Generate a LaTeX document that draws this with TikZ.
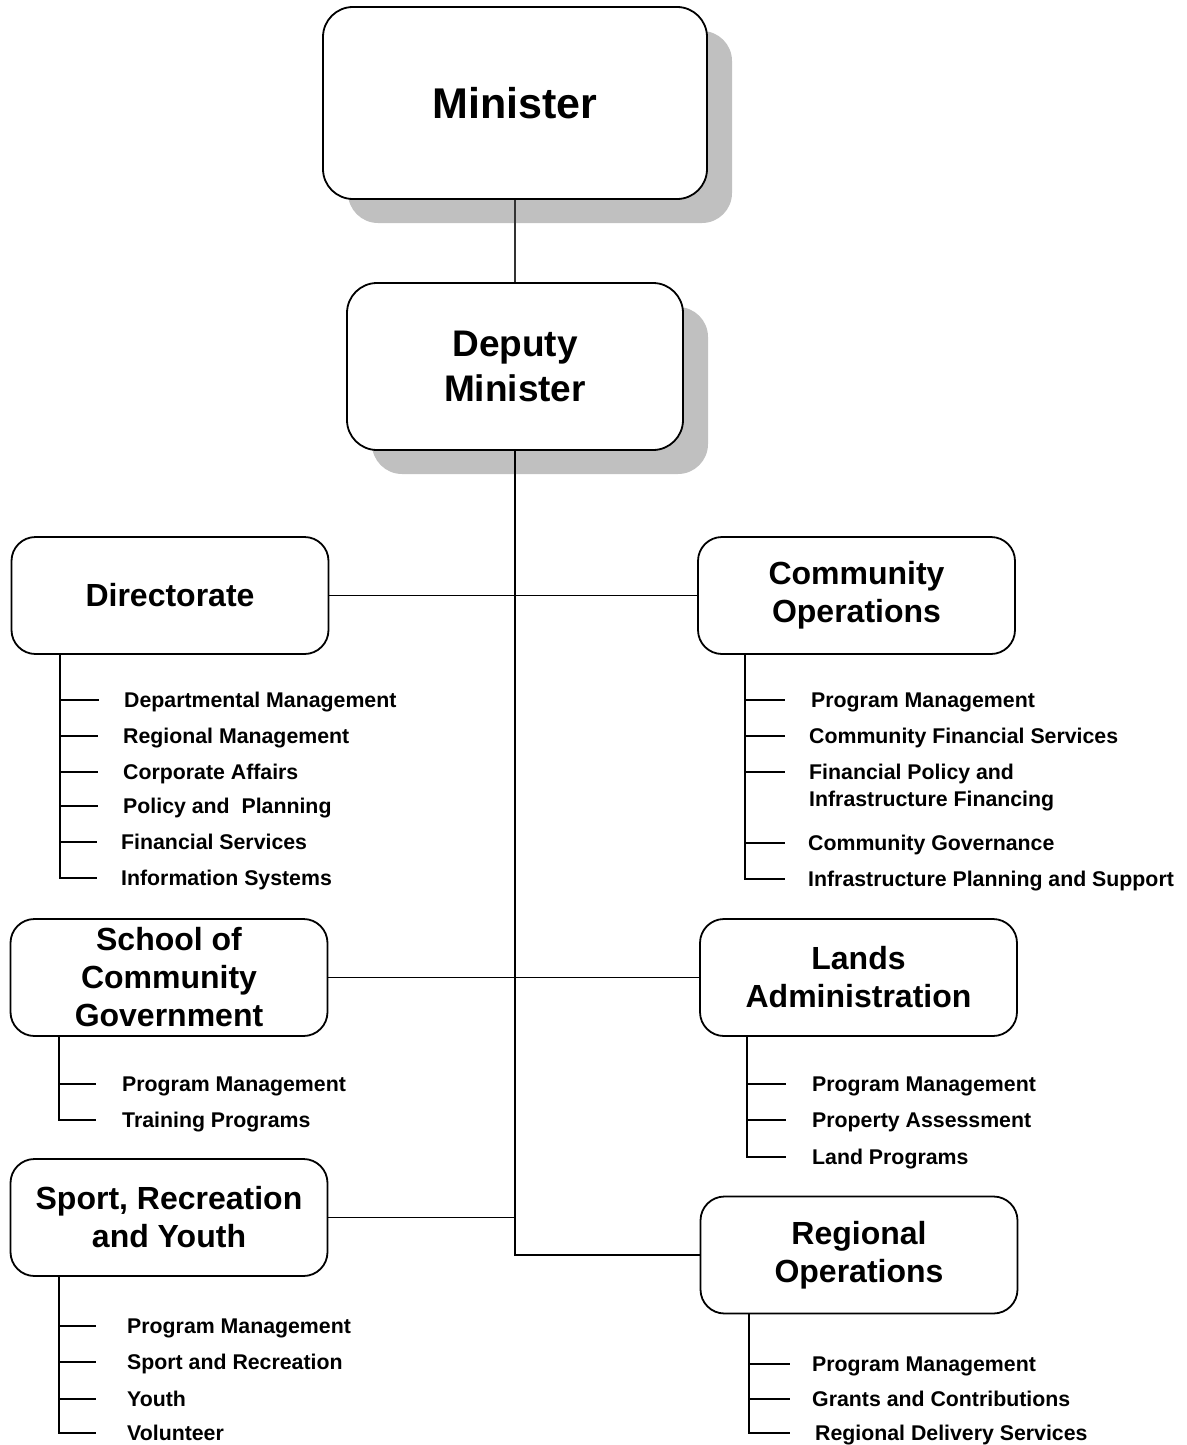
\documentclass[tikz,border=0pt]{standalone}
\usepackage{fontspec}
\setmainfont{Liberation Sans}
\usetikzlibrary{positioning,shadows,calc}

\definecolor{shadegray}{RGB}{192,192,192}

\begin{document}
\begin{tikzpicture}[x=1pt, y=-1pt,
  unit/.style={draw, line width=1.8pt, rounded corners=24pt, fill=white, align=center, inner sep=0pt, minimum width=317pt, minimum height=117pt, font=\bfseries\fontsize{32}{38}\selectfont},
  head/.style={unit, rounded corners=30pt, drop shadow={shadow xshift=25pt, shadow yshift=-24pt, fill=shadegray, opacity=1}},
  item/.style={anchor=west, inner sep=0pt, text height=15pt, text depth=0pt, font=\bfseries\fontsize{21.3}{25}\selectfont},
  stem/.style={line width=2pt},
  trunk/.style={line width=1.6pt},
  link/.style={line width=1.1pt}]
  \useasboundingbox (0,0) rectangle (1186,1445);

  % top of the chart
  \node[head, minimum width=384pt, minimum height=192pt, font=\bfseries\fontsize{43}{50}\selectfont] (minister) at (515,103) {Minister};
  \node[head, minimum width=336pt, minimum height=167pt, font=\bfseries\fontsize{37}{45}\selectfont] (deputy) at (515,366.5) {Deputy\\Minister};

  % divisions
  \node[unit] (dir) at (170,595.5) {Directorate};
  \node[unit] (comops) at (856.5,595.5) {Community\\Operations};
  \node[unit] (school) at (169,977.5) {School of\\Community\\Government};
  \node[unit] (lands) at (858.5,977.5) {Lands\\Administration};
  \node[unit] (sport) at (169,1217.5) {Sport, Recreation\\and Youth};
  \node[unit] (regops) at (859,1255) {Regional\\Operations};

  \draw[link, black!80] (minister) -- (deputy);
  \draw[trunk] (deputy.south) |- (regops.west);
  \draw[link] (dir) -- (comops);
  \draw[link] (school) -- (lands);
  \draw[link] (sport.east) -- (sport.east -| deputy.south);

  % Directorate
  \coordinate (dirstem) at ([xshift=49pt]dir.south west);
  \node[item] (d1) at (124,700) {Departmental Management};
  \node[item] (d2) at (123,736) {Regional Management};
  \node[item] (d3) at (123,772) {Corporate Affairs};
  \node[item] (d4) at (123,806) {Policy and\ \ Planning};
  \node[item] (d5) at (121,842) {Financial Services};
  \node[item] (d6) at (121,878) {Information Systems};
  \draw[stem] (dirstem) |- ([xshift=-24pt]d6.west);
  \draw[stem] (dirstem |- d1.west) -- ([xshift=-25pt]d1.west);
  \draw[stem] (dirstem |- d2.west) -- ([xshift=-25pt]d2.west);
  \draw[stem] (dirstem |- d3.west) -- ([xshift=-25pt]d3.west);
  \draw[stem] (dirstem |- d4.west) -- ([xshift=-25pt]d4.west);
  \draw[stem] (dirstem |- d5.west) -- ([xshift=-24pt]d5.west);

  % Community Operations
  \coordinate (opsstem) at ([xshift=48pt]comops.south west);
  \node[item] (c1) at (811,700) {Program Management};
  \node[item] (c2) at (809,736) {Community Financial Services};
  \node[item] (c3) at (809,772) {Financial Policy and};
  \node[item] (c3b) at (809,799) {Infrastructure Financing};
  \node[item] (c4) at (808,843) {Community Governance};
  \node[item] (c5) at (808,879) {Infrastructure Planning and Support};
  \draw[stem] (opsstem) |- ([xshift=-23pt]c5.west);
  \draw[stem] (opsstem |- c1.west) -- ([xshift=-26pt]c1.west);
  \draw[stem] (opsstem |- c2.west) -- ([xshift=-24pt]c2.west);
  \draw[stem] (opsstem |- c3.west) -- ([xshift=-24pt]c3.west);
  \draw[stem] (opsstem |- c4.west) -- ([xshift=-23pt]c4.west);

  % School of Community Government
  \coordinate (schoolstem) at ([xshift=49.5pt]school.south west);
  \node[item] (s1) at (122,1084) {Program Management};
  \node[item] (s2) at (122,1120) {Training Programs};
  \draw[stem] (schoolstem) |- ([xshift=-26pt]s2.west);
  \draw[stem] (schoolstem |- s1.west) -- ([xshift=-26pt]s1.west);

  % Lands Administration
  \coordinate (landstem) at ([xshift=48pt]lands.south west);
  \node[item] (l1) at (812,1084) {Program Management};
  \node[item] (l2) at (812,1120) {Property Assessment};
  \node[item] (l3) at (812,1157) {Land Programs};
  \draw[stem] (landstem) |- ([xshift=-26pt]l3.west);
  \draw[stem] (landstem |- l1.west) -- ([xshift=-26pt]l1.west);
  \draw[stem] (landstem |- l2.west) -- ([xshift=-26pt]l2.west);

  % Sport, Recreation and Youth
  \coordinate (sportstem) at ([xshift=49.5pt]sport.south west);
  \node[item] (p1) at (127,1326) {Program Management};
  \node[item] (p2) at (127,1362) {Sport and Recreation};
  \node[item] (p3) at (127,1399) {Youth};
  \node[item] (p4) at (127,1433) {Volunteer};
  \draw[stem] (sportstem) |- ([xshift=-31pt]p4.west);
  \draw[stem] (sportstem |- p1.west) -- ([xshift=-31pt]p1.west);
  \draw[stem] (sportstem |- p2.west) -- ([xshift=-31pt]p2.west);
  \draw[stem] (sportstem |- p3.west) -- ([xshift=-31pt]p3.west);

  % Regional Operations
  \coordinate (regstem) at ([xshift=49.5pt]regops.south west);
  \node[item] (r1) at (812,1364) {Program Management};
  \node[item] (r2) at (812,1399) {Grants and Contributions};
  \node[item] (r3) at (815,1433) {Regional Delivery Services};
  \draw[stem] (regstem) |- ([xshift=-25pt]r3.west);
  \draw[stem] (regstem |- r1.west) -- ([xshift=-22pt]r1.west);
  \draw[stem] (regstem |- r2.west) -- ([xshift=-22pt]r2.west);
\end{tikzpicture}
\end{document}
